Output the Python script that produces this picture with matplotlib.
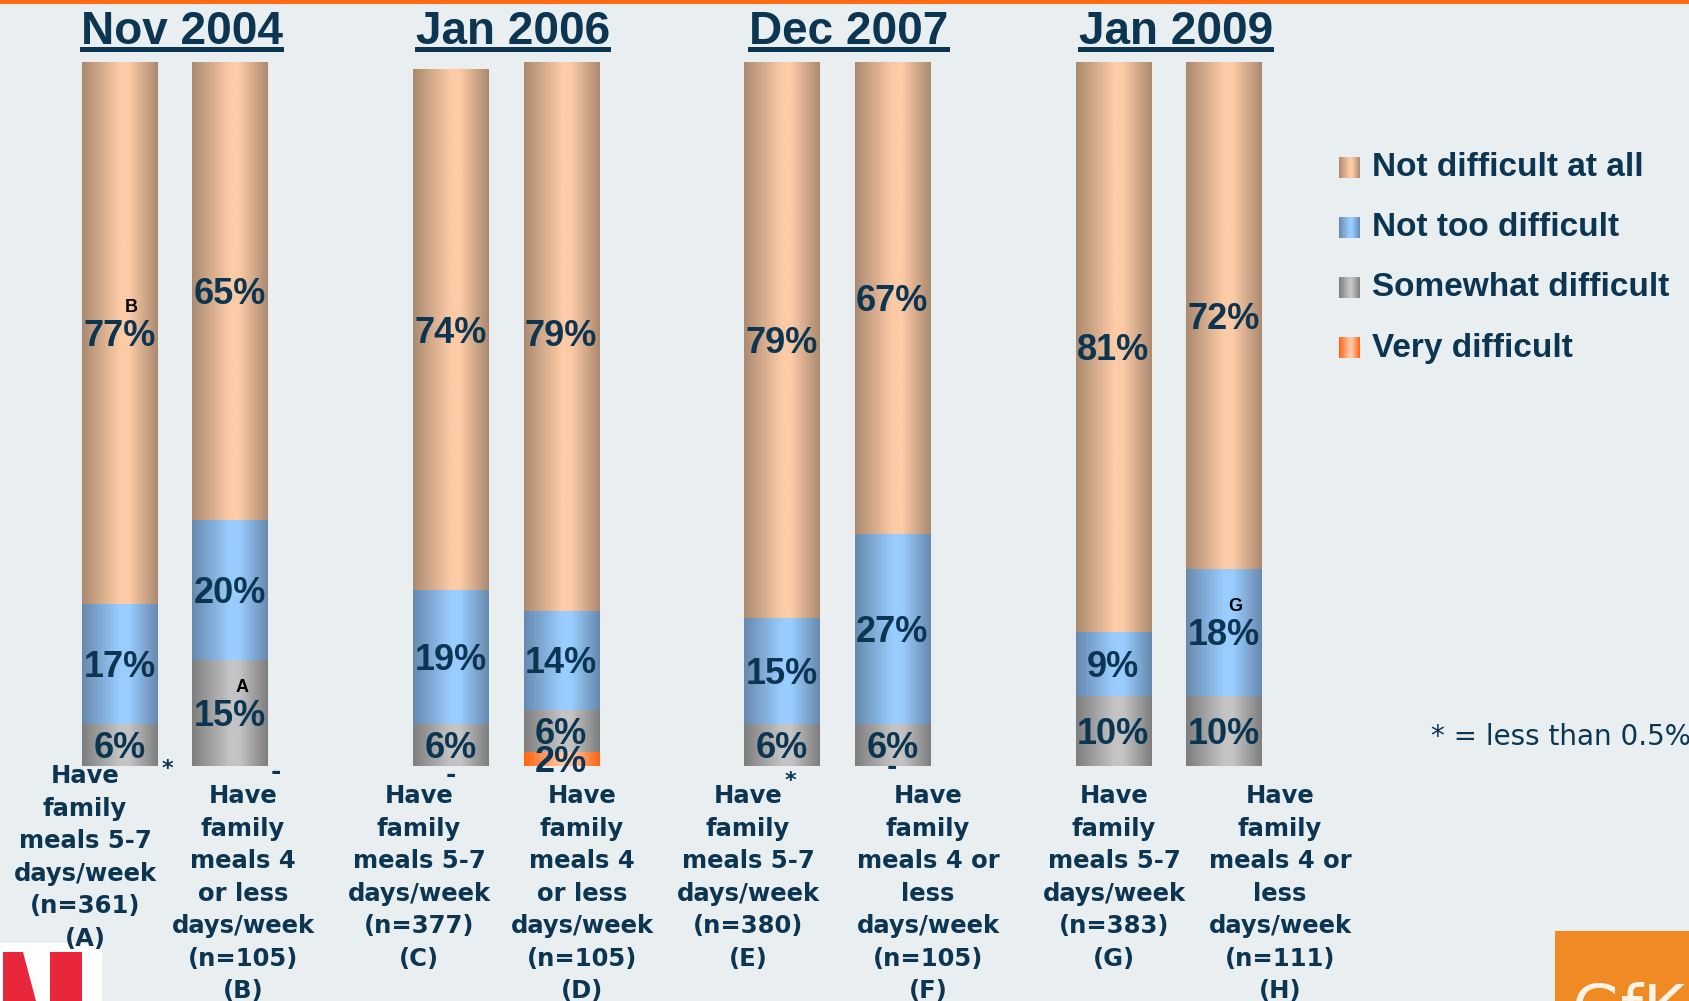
import numpy as np
import matplotlib
matplotlib.use("Agg")
import matplotlib.pyplot as plt
from matplotlib.colors import LinearSegmentedColormap
from matplotlib.patches import Rectangle, Polygon

# survey waves and the eight respondent groups
waves = ["Nov 2004", "Jan 2006", "Dec 2007", "Jan 2009"]
cat_labels = [
    "Have\nfamily\nmeals 5-7\ndays/week\n(n=361)\n(A)",
    "Have\nfamily\nmeals 4\nor less\ndays/week\n(n=105)\n(B)",
    "Have\nfamily\nmeals 5-7\ndays/week\n(n=377)\n(C)",
    "Have\nfamily\nmeals 4\nor less\ndays/week\n(n=105)\n(D)",
    "Have\nfamily\nmeals 5-7\ndays/week\n(n=380)\n(E)",
    "Have\nfamily\nmeals 4 or\nless\ndays/week\n(n=105)\n(F)",
    "Have\nfamily\nmeals 5-7\ndays/week\n(n=383)\n(G)",
    "Have\nfamily\nmeals 4 or\nless\ndays/week\n(n=111)\n(H)",
]

# percentages, bottom segment first
very_difficult = [0, 0, 0, 2, 0, 0, 0, 0]
somewhat_difficult = [6, 15, 6, 6, 6, 6, 10, 10]
not_too_difficult = [17, 20, 19, 14, 15, 27, 9, 18]
not_difficult_at_all = [77, 65, 74, 79, 79, 67, 81, 72]

# "*" = less than 0.5%, "-" = none
very_marks = ["*", "-", "-", "", "*", "-", "", ""]
# significance letters: (series name, bar index, letter)
sig_letters = [("Not difficult at all", 0, "B"),
               ("Somewhat difficult", 1, "A"),
               ("Not too difficult", 7, "G")]

legend_names = ["Not difficult at all", "Not too difficult",
                "Somewhat difficult", "Very difficult"]

BG = "#E9EEF0"
NAVY = "#0B3551"
W, H = 1690, 1001

def shade(dark, light):
    return LinearSegmentedColormap.from_list(
        "s", [(0, dark), (0.5, light), (0.62, light), (1, dark)])

cmaps = {
    "Not difficult at all": shade("#AB8A70", "#FDCBA6"),
    "Not too difficult": shade("#6789AE", "#9ACDFF"),
    "Somewhat difficult": shade("#7E7E7E", "#C4C4C4"),
    "Very difficult": shade("#FF6410", "#FFC6A6"),
}
grad = np.linspace(0, 1, 200).reshape(1, -1)

fig = plt.figure(figsize=(W / 100, H / 100), dpi=100, facecolor=BG)

# overlay axes in pixel units for decorations
ax_o = fig.add_axes([0, 0, 1, 1], zorder=0)
ax_o.set_xlim(0, W)
ax_o.set_ylim(H, 0)
ax_o.axis("off")

# bar axes: y 0..100 from baseline (px 766) to top (px 62.5)
unit = 110.4
x_pos = [0, 1, 3, 4, 6, 7, 9, 10]
left_px = 119.5 - unit
ax = fig.add_axes([left_px / W, (H - 766) / H, 12 * unit / W, 703.5 / H], zorder=1)
ax.patch.set_visible(False)
ax.axis("off")

series = [("Very difficult", very_difficult),
          ("Somewhat difficult", somewhat_difficult),
          ("Not too difficult", not_too_difficult),
          ("Not difficult at all", not_difficult_at_all)]

bottom = np.zeros(len(x_pos))
label_pos = {}
for name, vals in series:
    bars = ax.bar(x_pos, vals, width=0.68, bottom=bottom, color="none",
                  edgecolor="none", label=name)
    for i, b in enumerate(bars):
        h = b.get_height()
        if h <= 0:
            continue
        x0, y0, w = b.get_x(), b.get_y(), b.get_width()
        ax.imshow(grad, cmap=cmaps[name], extent=[x0, x0 + w, y0, y0 + h],
                  aspect="auto", zorder=2)
        cy = y0 + h / 2 - 0.5
        label_pos[(name, i)] = (x_pos[i], cy)
        ax.text(x_pos[i], cy, f"{vals[i]}%", ha="center", va="center",
                fontsize=26, fontweight="bold", color=NAVY,
                family="Liberation Sans", zorder=3)
    bottom += np.array(vals)

for name, i, letter in sig_letters:
    ax.annotate(letter, label_pos[(name, i)], xytext=(12, 29),
                textcoords="offset pixels", ha="center", va="center",
                fontsize=13, fontweight="bold", color="black",
                family="Liberation Sans", zorder=3)

# markers for "very difficult" below the bars
mark_dx = [0.43, 0.42, 0.0, 0.0, 0.08, 0.0, 0.0, 0.0]
mark_dy = [-0.4, -0.9, -1.3, 0.0, -2.2, -0.2, 0.0, 0.0]
for i, m in enumerate(very_marks):
    if m:
        ax.text(x_pos[i] + mark_dx[i], mark_dy[i], m, ha="center", va="center",
                fontsize=16 if m == "*" else 18, fontweight="bold",
                color=NAVY, family="DejaVu Sans", zorder=3)

ax.set_xlim(-1, 11)
ax.set_ylim(0, 100)

# category labels
lab_x = [85, 243, 419, 582, 748, 928, 1114, 1280]
lab_top = [764, 784, 784, 784, 784, 784, 784, 784]
for i, txt in enumerate(cat_labels):
    ax_o.text(lab_x[i], lab_top[i], txt, ha="center", va="top",
              multialignment="center", fontsize=17.5, fontweight="bold",
              color=NAVY, family="DejaVu Sans", linespacing=1.45)

# wave titles with underline
title_x = [182, 513, 849, 1176]
titles = []
for tx, wname in zip(title_x, waves):
    titles.append(ax_o.text(tx, 44, wname, ha="center", va="baseline",
                            fontsize=33, fontweight="bold", color=NAVY,
                            family="Liberation Sans"))

# top orange rule
ax_o.add_patch(Rectangle((0, 0), W, 3.5, color="#FF6A13", lw=0))

# legend
for k, name in enumerate(legend_names):
    yc = 168 + 60 * k
    ax_o.imshow(grad, cmap=cmaps[name], extent=[1339, 1360, yc + 10.5, yc - 10.5],
                aspect="auto", zorder=2)
    ax_o.text(1372, yc, name, ha="left", va="center", fontsize=24,
              fontweight="bold", color=NAVY, family="Liberation Sans")

ax_o.text(1431, 737, "* = less than 0.5%", ha="left", va="center",
          fontsize=20, color=NAVY, family="DejaVu Sans")

# logos in the corners
ax_o.add_patch(Rectangle((0, 943), 102, 60, color="white", lw=0))
ax_o.add_patch(Polygon([(3, 952), (23, 952), (36, 1001), (3, 1001)],
                       closed=True, color="#E8283A", lw=0))
ax_o.add_patch(Rectangle((50, 952), 32, 50, color="#E8283A", lw=0))
ax_o.add_patch(Rectangle((1555, 931), 140, 75, color="#F08A24", lw=0))
ax_o.text(1571, 982, "GfK", ha="left", va="top", fontsize=46,
          color="#FFF3E6", family="DejaVu Sans")

ax_o.set_xlim(0, W)
ax_o.set_ylim(H, 0)

# underline each title using its rendered extent
fig.canvas.draw()
rend = fig.canvas.get_renderer()
for t in titles:
    bb = t.get_window_extent(rend)
    ax_o.add_patch(Rectangle((bb.x0 - 1, 47), bb.width + 2, 5, color=NAVY, lw=0))

fig.savefig("out.png", dpi=100, facecolor=BG)
